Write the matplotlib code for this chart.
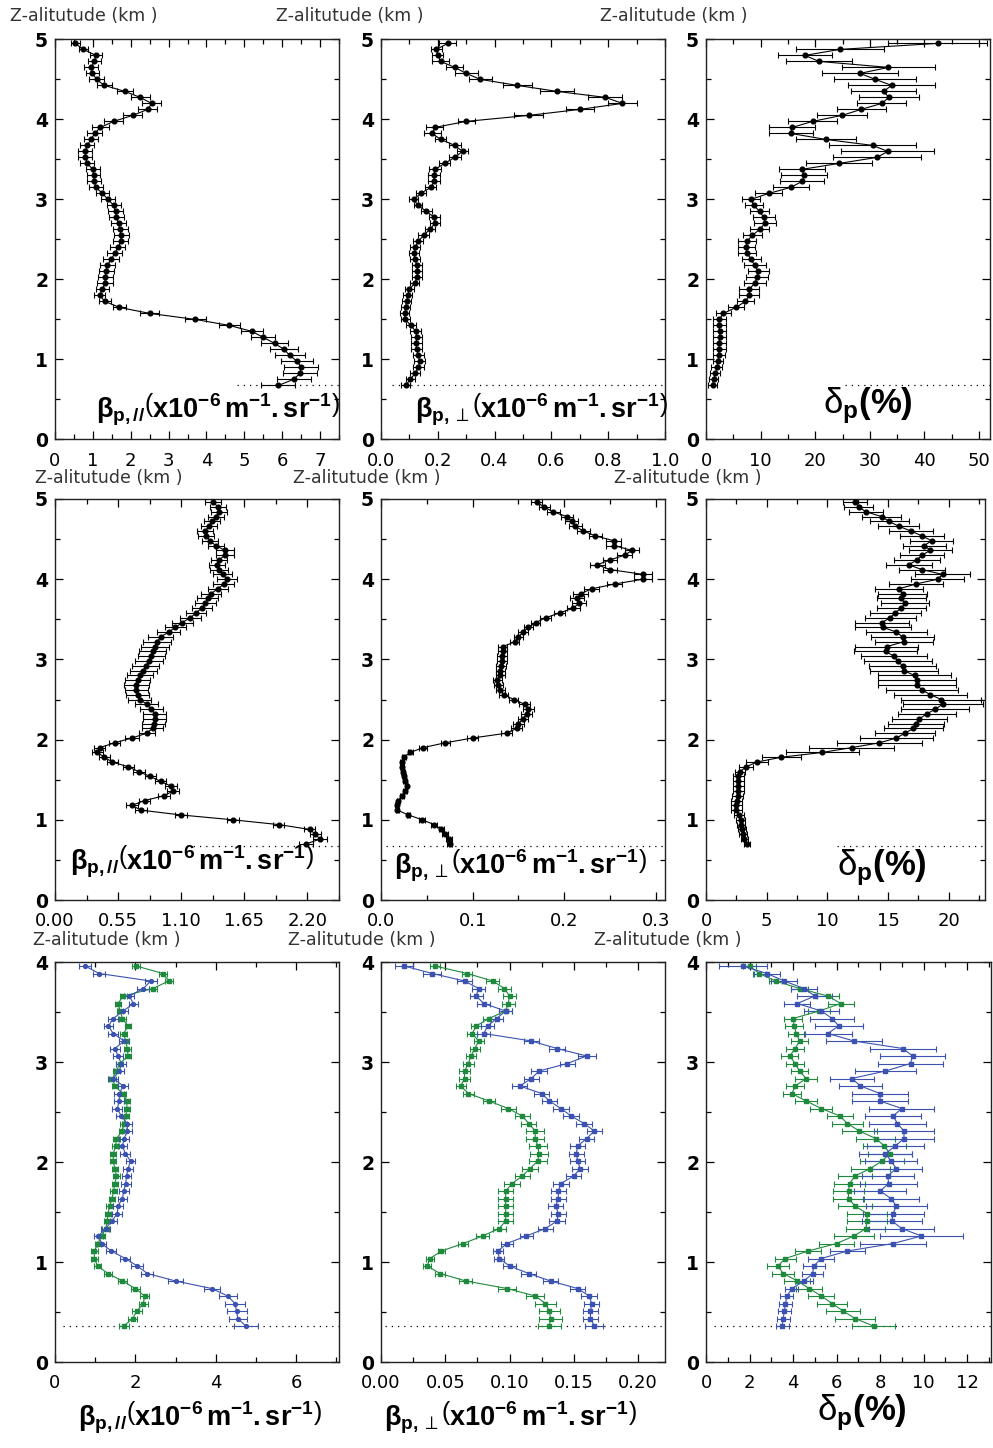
import matplotlib
matplotlib.use('Agg')
import matplotlib.pyplot as plt
from matplotlib.ticker import MultipleLocator, FixedLocator, FormatStrFormatter

plt.rcParams['font.family'] = ['DejaVu Sans']
plt.rcParams['mathtext.fontset'] = 'custom'
plt.rcParams['mathtext.rm'] = 'Liberation Sans'
plt.rcParams['mathtext.it'] = 'Liberation Sans'
plt.rcParams['mathtext.bf'] = 'Liberation Sans:bold'
plt.rcParams['mathtext.sf'] = 'DejaVu Sans'

# ---------------- data ----------------
Z1 = [0.67, 0.745, 0.82, 0.895, 0.97, 1.045, 1.12, 1.195, 1.27, 1.345,
      1.42, 1.495, 1.57, 1.645, 1.72, 1.795, 1.87, 1.945, 2.02, 2.095,
      2.17, 2.245, 2.32, 2.395, 2.47, 2.545, 2.62, 2.695, 2.77, 2.845,
      2.92, 2.995, 3.07, 3.145, 3.22, 3.295, 3.37, 3.445, 3.52, 3.595,
      3.67, 3.745, 3.82, 3.895, 3.97, 4.045, 4.12, 4.195, 4.27, 4.345,
      4.42, 4.495, 4.57, 4.645, 4.72, 4.795, 4.87, 4.945]

A_par = [5.9, 6.3, 6.47, 6.5, 6.4, 6.2, 6.05, 5.8, 5.5, 5.2,
         4.6, 3.7, 2.5, 1.7, 1.32, 1.18, 1.25, 1.32, 1.33, 1.35,
         1.38, 1.48, 1.58, 1.66, 1.74, 1.75, 1.72, 1.68, 1.62, 1.6,
         1.55, 1.4, 1.25, 1.08, 1.03, 1.02, 1.0, 0.85, 0.8, 0.8,
         0.85, 0.95, 1.05, 1.2, 1.55, 2.05, 2.45, 2.55, 2.25, 1.85,
         1.3, 1.1, 0.99, 0.95, 1.04, 1.08, 0.75, 0.53]
A_err = [0.45, 0.45, 0.45, 0.45, 0.42, 0.40, 0.38, 0.35, 0.32, 0.30,
         0.28, 0.28, 0.25, 0.18, 0.15, 0.15, 0.18, 0.20, 0.20, 0.20,
         0.20, 0.20, 0.20, 0.20, 0.20, 0.20, 0.20, 0.20, 0.20, 0.20,
         0.18, 0.18, 0.18, 0.18, 0.18, 0.18, 0.18, 0.18, 0.18, 0.18,
         0.18, 0.18, 0.20, 0.22, 0.25, 0.25, 0.25, 0.25, 0.25, 0.22,
         0.20, 0.20, 0.18, 0.18, 0.18, 0.15, 0.12, 0.12]

B_perp = [0.087, 0.103, 0.12, 0.132, 0.136, 0.132, 0.125, 0.124, 0.126, 0.122,
          0.105, 0.085, 0.084, 0.087, 0.09, 0.094, 0.1, 0.118, 0.128, 0.128,
          0.127, 0.12, 0.117, 0.121, 0.131, 0.15, 0.172, 0.19, 0.188, 0.16,
          0.13, 0.115, 0.14, 0.175, 0.187, 0.187, 0.19, 0.224, 0.26, 0.287,
          0.26, 0.21, 0.18, 0.19, 0.3, 0.52, 0.70, 0.85, 0.79, 0.62,
          0.48, 0.35, 0.30, 0.26, 0.21, 0.2, 0.195, 0.235]
B_err = [0.015, 0.015, 0.018, 0.02, 0.02, 0.02, 0.02, 0.02, 0.02, 0.02,
         0.018, 0.016, 0.016, 0.016, 0.016, 0.016, 0.016, 0.016, 0.018, 0.018,
         0.018, 0.018, 0.018, 0.018, 0.018, 0.018, 0.018, 0.018, 0.018, 0.018,
         0.015, 0.015, 0.018, 0.02, 0.02, 0.02, 0.02, 0.02, 0.02, 0.02,
         0.02, 0.02, 0.03, 0.03, 0.03, 0.05, 0.05, 0.05, 0.06, 0.06,
         0.05, 0.04, 0.04, 0.03, 0.03, 0.02, 0.02, 0.03]

C_dep = [1.2, 1.4, 1.7, 2.0, 2.2, 2.3, 2.4, 2.4, 2.5, 2.5,
         2.4, 2.4, 3.2, 5.5, 7.2, 7.9, 7.9, 8.9, 9.4, 9.6,
         8.9, 8.3, 7.5, 7.4, 7.5, 8.5, 9.8, 10.8, 10.6, 9.8,
         8.8, 8.2, 11.5, 15.5, 17.6, 18.0, 17.5, 24.4, 31.3, 33.3,
         30.5, 21.9, 15.5, 15.8, 19.5, 24.9, 28.4, 32.2, 33.5, 32.5,
         34.0, 31.0, 28.2, 33.4, 20.7, 18.1, 24.5, 42.4]
C_err = [0.8, 0.8, 0.9, 1.0, 1.0, 1.1, 1.2, 1.2, 1.2, 1.2,
         1.2, 1.2, 1.3, 1.5, 1.5, 1.8, 1.8, 2.0, 2.0, 2.0,
         2.0, 1.8, 1.6, 1.6, 1.6, 1.8, 1.8, 2.0, 2.0, 1.8,
         1.6, 1.6, 2.5, 3.3, 4.0, 4.2, 4.2, 6.0, 8.0, 8.5,
         8.0, 5.5, 4.0, 4.2, 4.5, 4.5, 4.5, 4.5, 5.5, 6.0,
         8.0, 7.5, 7.0, 8.5, 6.0, 5.0, 8.0, 9.0]

Z2 = [0.70, 0.76, 0.82, 0.88, 0.94, 1.00, 1.06, 1.12, 1.18, 1.24,
      1.30, 1.36, 1.42, 1.48, 1.54, 1.60, 1.66, 1.72, 1.78, 1.84,
      1.90, 1.96, 2.02, 2.08, 2.14, 2.20, 2.26, 2.32, 2.38, 2.44,
      2.50, 2.56, 2.62, 2.68, 2.74, 2.80, 2.86, 2.92, 2.98, 3.04,
      3.10, 3.16, 3.22, 3.28, 3.34, 3.40, 3.46, 3.52, 3.58, 3.64,
      3.70, 3.76, 3.82, 3.88, 3.94, 4.00, 4.06, 4.12, 4.18, 4.24,
      4.30, 4.36, 4.42, 4.48, 4.54, 4.60, 4.66, 4.72, 4.78, 4.84,
      4.90, 4.96]

D_par = [2.19, 2.31, 2.27, 2.22, 1.95, 1.55, 1.10, 0.75, 0.67, 0.78,
         0.95, 1.03, 1.01, 0.92, 0.83, 0.73, 0.64, 0.50, 0.43, 0.37,
         0.39, 0.52, 0.67, 0.80, 0.85, 0.86, 0.87, 0.87, 0.84, 0.80,
         0.74, 0.72, 0.71, 0.71, 0.72, 0.74, 0.77, 0.79, 0.82, 0.84,
         0.85, 0.87, 0.89, 0.92, 0.99, 1.05, 1.11, 1.18, 1.23, 1.28,
         1.31, 1.33, 1.36, 1.42, 1.47, 1.50, 1.46, 1.43, 1.41, 1.43,
         1.48, 1.48, 1.40, 1.35, 1.32, 1.31, 1.34, 1.37, 1.40, 1.43,
         1.42, 1.38]
D_err = [0.06, 0.06, 0.05, 0.05, 0.05, 0.05, 0.05, 0.05, 0.05, 0.05,
         0.05, 0.05, 0.05, 0.05, 0.05, 0.05, 0.05, 0.05, 0.05, 0.05,
         0.05, 0.05, 0.06, 0.07, 0.09, 0.10, 0.10, 0.10, 0.10, 0.10,
         0.10, 0.10, 0.10, 0.11, 0.11, 0.11, 0.12, 0.12, 0.12, 0.12,
         0.12, 0.12, 0.12, 0.11, 0.10, 0.09, 0.09, 0.09, 0.09, 0.09,
         0.09, 0.09, 0.09, 0.09, 0.09, 0.09, 0.08, 0.08, 0.07, 0.07,
         0.08, 0.08, 0.07, 0.07, 0.07, 0.07, 0.07, 0.07, 0.07, 0.07,
         0.07, 0.07]

E_perp = [0.075, 0.074, 0.070, 0.066, 0.058, 0.045, 0.030, 0.018, 0.017, 0.019,
          0.023, 0.026, 0.028, 0.026, 0.025, 0.024, 0.023, 0.023, 0.025, 0.032,
          0.046, 0.070, 0.100, 0.137, 0.148, 0.150, 0.155, 0.159, 0.161, 0.157,
          0.145, 0.134, 0.130, 0.128, 0.127, 0.130, 0.130, 0.131, 0.132, 0.132,
          0.133, 0.133, 0.146, 0.150, 0.155, 0.161, 0.169, 0.180, 0.195, 0.210,
          0.216, 0.214, 0.218, 0.230, 0.255, 0.286, 0.286, 0.250, 0.236, 0.250,
          0.266, 0.274, 0.254, 0.254, 0.234, 0.221, 0.212, 0.208, 0.203, 0.188,
          0.178, 0.170]
E_err = [0.003, 0.003, 0.003, 0.003, 0.003, 0.003, 0.002, 0.002, 0.002, 0.002,
         0.002, 0.002, 0.002, 0.002, 0.002, 0.002, 0.002, 0.002, 0.002, 0.003,
         0.004, 0.005, 0.006, 0.006, 0.006, 0.006, 0.006, 0.006, 0.006, 0.006,
         0.005, 0.005, 0.005, 0.005, 0.005, 0.005, 0.005, 0.005, 0.005, 0.005,
         0.005, 0.005, 0.005, 0.005, 0.005, 0.005, 0.005, 0.006, 0.006, 0.007,
         0.008, 0.008, 0.008, 0.008, 0.008, 0.010, 0.010, 0.008, 0.008, 0.008,
         0.008, 0.008, 0.008, 0.008, 0.007, 0.007, 0.007, 0.007, 0.007, 0.007,
         0.006, 0.006]

F_dep = [3.40, 3.15, 3.05, 2.95, 2.90, 2.85, 2.70, 2.50, 2.50, 2.55,
         2.60, 2.65, 2.65, 2.65, 2.65, 2.80, 3.30, 4.20, 6.20, 9.60,
         12.0, 14.3, 15.7, 16.4, 17.1, 17.3, 17.6, 18.2, 18.9, 19.5,
         19.4, 18.5, 17.8, 17.4, 17.4, 17.2, 16.3, 16.2, 15.8, 15.5,
         14.8, 14.9, 16.3, 16.2, 15.7, 14.6, 14.5, 15.2, 15.6, 16.1,
         16.4, 16.1, 16.2, 15.9, 17.3, 19.1, 19.5, 17.8, 16.7, 17.4,
         17.8, 18.5, 18.0, 18.6, 17.8, 16.9, 15.9, 15.1, 14.5, 13.2,
         12.6, 12.3]
F_err = [0.25, 0.30, 0.35, 0.35, 0.35, 0.40, 0.40, 0.45, 0.45, 0.45,
         0.45, 0.45, 0.45, 0.45, 0.45, 0.45, 0.60, 0.90, 1.60, 3.00,
         3.50, 3.50, 3.00, 2.50, 2.40, 2.30, 2.30, 2.40, 2.80, 3.30,
         3.30, 3.00, 3.00, 3.20, 3.20, 3.00, 2.80, 2.80, 2.80, 2.70,
         2.60, 2.60, 2.40, 2.60, 2.50, 2.30, 2.20, 2.10, 2.10, 2.00,
         2.00, 2.00, 2.00, 2.00, 2.20, 2.20, 2.30, 1.90, 1.90, 1.90,
         1.80, 1.80, 1.80, 1.80, 1.80, 1.80, 1.70, 1.60, 1.60, 1.40,
         1.20, 1.00]

Z3 = [0.360, 0.435, 0.510, 0.585, 0.660, 0.735, 0.810, 0.885, 0.960, 1.035,
      1.110, 1.185, 1.260, 1.335, 1.410, 1.485, 1.560, 1.635, 1.710, 1.785,
      1.860, 1.935, 2.010, 2.085, 2.160, 2.235, 2.310, 2.385, 2.460, 2.535,
      2.610, 2.685, 2.760, 2.835, 2.910, 2.985, 3.060, 3.135, 3.210, 3.285,
      3.360, 3.435, 3.510, 3.585, 3.660, 3.735, 3.810, 3.885, 3.960]

G_par_green = [1.71, 1.93, 2.04, 2.20, 2.23, 2.00, 1.68, 1.32, 1.06, 0.98,
               0.98, 1.07, 1.16, 1.26, 1.30, 1.32, 1.36, 1.42, 1.46, 1.49,
               1.53, 1.49, 1.45, 1.45, 1.51, 1.53, 1.68, 1.71, 1.76, 1.79,
               1.79, 1.69, 1.49, 1.43, 1.53, 1.61, 1.82, 1.80, 1.76, 1.71,
               1.82, 1.68, 1.62, 1.57, 1.70, 2.44, 2.83, 2.69, 2.02]
G_err_green = [0.12, 0.12, 0.12, 0.12, 0.12, 0.12, 0.10, 0.10, 0.08, 0.08,
               0.08, 0.08, 0.08, 0.08, 0.08, 0.08, 0.08, 0.08, 0.08, 0.08,
               0.08, 0.08, 0.08, 0.08, 0.08, 0.08, 0.08, 0.08, 0.08, 0.08,
               0.08, 0.08, 0.08, 0.08, 0.08, 0.08, 0.08, 0.08, 0.08, 0.08,
               0.08, 0.08, 0.08, 0.08, 0.08, 0.10, 0.10, 0.10, 0.10]
G_par_blue = [4.75, 4.55, 4.52, 4.48, 4.30, 3.90, 3.00, 2.30, 2.05, 1.75,
              1.40, 1.16, 1.08, 1.26, 1.42, 1.55, 1.57, 1.68, 1.71, 1.76,
              1.78, 1.82, 1.88, 1.75, 1.68, 1.72, 1.80, 1.80, 1.65, 1.55,
              1.60, 1.60, 1.70, 1.45, 1.60, 1.65, 1.57, 1.49, 1.72, 1.45,
              1.33, 1.45, 1.70, 1.95, 1.85, 2.20, 2.38, 1.10, 0.75]
G_err_blue = [0.30, 0.22, 0.25, 0.25, 0.22, 0.20, 0.18, 0.15, 0.15, 0.12,
              0.12, 0.12, 0.12, 0.12, 0.12, 0.12, 0.12, 0.12, 0.12, 0.12,
              0.12, 0.12, 0.12, 0.12, 0.12, 0.12, 0.12, 0.12, 0.12, 0.12,
              0.12, 0.12, 0.12, 0.12, 0.12, 0.12, 0.12, 0.12, 0.12, 0.12,
              0.12, 0.12, 0.12, 0.12, 0.12, 0.15, 0.15, 0.15, 0.15]

H_perp_green = [0.131, 0.132, 0.131, 0.128, 0.120, 0.098, 0.066, 0.046, 0.036, 0.038,
                0.047, 0.064, 0.079, 0.092, 0.097, 0.097, 0.097, 0.097, 0.097, 0.102,
                0.110, 0.116, 0.122, 0.123, 0.122, 0.120, 0.120, 0.115, 0.110, 0.099,
                0.084, 0.068, 0.062, 0.065, 0.065, 0.068, 0.070, 0.073, 0.076, 0.071,
                0.074, 0.084, 0.097, 0.099, 0.100, 0.096, 0.087, 0.067, 0.042]
H_err_green = [0.009, 0.009, 0.008, 0.008, 0.007, 0.007, 0.005, 0.004, 0.003, 0.003,
               0.003, 0.004, 0.005, 0.005, 0.006, 0.006, 0.006, 0.006, 0.006, 0.006,
               0.006, 0.006, 0.007, 0.007, 0.007, 0.007, 0.007, 0.006, 0.006, 0.006,
               0.005, 0.004, 0.004, 0.004, 0.004, 0.004, 0.004, 0.004, 0.004, 0.004,
               0.004, 0.005, 0.005, 0.005, 0.005, 0.005, 0.005, 0.004, 0.004]
H_perp_blue = [0.166, 0.163, 0.163, 0.164, 0.162, 0.153, 0.132, 0.115, 0.100, 0.092,
               0.091, 0.098, 0.113, 0.128, 0.137, 0.138, 0.136, 0.138, 0.138, 0.140,
               0.150, 0.155, 0.153, 0.152, 0.153, 0.160, 0.166, 0.158, 0.148, 0.140,
               0.131, 0.125, 0.108, 0.117, 0.123, 0.145, 0.160, 0.137, 0.117, 0.080,
               0.083, 0.090, 0.097, 0.080, 0.074, 0.076, 0.065, 0.040, 0.018]
H_err_blue = [0.007, 0.006, 0.006, 0.006, 0.006, 0.006, 0.006, 0.006, 0.005, 0.004,
              0.004, 0.005, 0.005, 0.006, 0.006, 0.006, 0.006, 0.006, 0.006, 0.006,
              0.006, 0.006, 0.006, 0.006, 0.006, 0.006, 0.006, 0.006, 0.006, 0.006,
              0.006, 0.006, 0.006, 0.006, 0.006, 0.006, 0.007, 0.006, 0.006, 0.005,
              0.005, 0.005, 0.005, 0.005, 0.005, 0.005, 0.006, 0.007, 0.007]

I_dep_green = [7.70, 6.85, 6.30, 5.80, 5.30, 4.75, 4.20, 3.55, 3.30, 3.65,
               4.70, 6.00, 6.80, 7.35, 7.40, 7.40, 6.85, 6.55, 6.55, 6.60,
               6.85, 7.55, 8.10, 8.45, 8.20, 7.80, 7.05, 6.50, 6.15, 5.30,
               4.60, 3.95, 4.10, 4.60, 4.30, 4.10, 3.85, 4.10, 4.30, 4.15,
               4.05, 4.00, 5.20, 6.20, 5.60, 4.30, 3.20, 2.45, 2.00]
I_err_green = [1.0, 0.9, 0.8, 0.7, 0.6, 0.6, 0.6, 0.5, 0.5, 0.5,
               0.6, 0.8, 0.9, 0.9, 0.9, 0.9, 0.8, 0.7, 0.7, 0.7,
               0.8, 0.9, 1.0, 1.0, 1.0, 0.9, 0.8, 0.7, 0.6, 0.5,
               0.5, 0.4, 0.4, 0.5, 0.4, 0.4, 0.4, 0.4, 0.4, 0.4,
               0.4, 0.4, 0.5, 0.6, 0.5, 0.4, 0.3, 0.3, 0.3]
I_dep_blue = [3.50, 3.55, 3.60, 3.65, 3.72, 3.95, 4.50, 4.90, 4.95, 5.30,
              6.50, 8.60, 9.90, 9.00, 8.55, 8.60, 8.75, 8.50, 8.00, 8.40,
              8.35, 8.75, 8.50, 8.25, 8.70, 9.10, 9.10, 8.80, 8.60, 9.00,
              8.00, 8.00, 7.10, 6.70, 8.25, 9.40, 9.50, 9.05, 6.80, 5.60,
              6.10, 5.80, 5.30, 4.20, 5.00, 4.50, 3.60, 2.80, 1.70]
I_err_blue = [0.3, 0.3, 0.3, 0.3, 0.3, 0.3, 0.4, 0.5, 0.5, 0.6,
              0.8, 1.5, 1.9, 1.5, 1.4, 1.4, 1.4, 1.3, 1.2, 1.3,
              1.2, 1.2, 1.2, 1.2, 1.3, 1.4, 1.4, 1.3, 1.3, 1.5,
              1.3, 1.3, 1.0, 1.0, 1.4, 1.5, 1.5, 1.5, 1.3, 1.1,
              1.1, 1.0, 0.8, 0.6, 0.8, 0.6, 0.6, 0.6, 1.1]

# reference altitude (dotted line) per row
ZREF_TOP = 0.67
ZREF_BOT = 0.36

XT_A = [0, 1, 2, 3, 4, 5, 6, 7]
XT_B = [0.0, 0.2, 0.4, 0.6, 0.8, 1.0]
XT_C = [0, 10, 20, 30, 40, 50]
XT_D = [0.00, 0.55, 1.10, 1.65, 2.20]
XT_E = [0.0, 0.1, 0.2, 0.3]
XT_F = [0, 5, 10, 15, 20]
XT_G = [0, 2, 4, 6]
XT_H = [0.00, 0.05, 0.10, 0.15, 0.20]
XT_I = [0, 2, 4, 6, 8, 10, 12]

LAB_PAR = r'$\mathbf{\beta_{p,//}\left(x10^{-6}\,m^{-1}.sr^{-1}\right)}$'
LAB_PERP = r'$\mathbf{\beta}_{\mathbf{p,}\mathsf{\perp}}\mathbf{\left(x10^{-6}\,m^{-1}.sr^{-1}\right)}$'
LAB_DEP = r'$\mathrm{\delta}_{\mathbf{p}}\mathbf{(\%)}$'
YLAB = 'Z-alitutude (km )'

BLUE = '#3b52b0'
GREEN = '#1f8a3e'

# ---------------- figure ----------------
W, H = 993, 1448
fig = plt.figure(figsize=(W / 100, H / 100), dpi=100)


def add_ax(x0, x1, ytop, ybot):
    return fig.add_axes([x0 / W, 1 - ybot / H, (x1 - x0) / W, (ybot - ytop) / H])


def style(ax, xlim, xticks, fmt, ymax):
    ax.set_xlim(*xlim)
    ax.set_ylim(0, ymax)
    ax.xaxis.set_major_locator(FixedLocator(xticks))
    ax.xaxis.set_major_formatter(FormatStrFormatter(fmt))
    step = xticks[1] - xticks[0]
    ax.xaxis.set_minor_locator(MultipleLocator(step / 2))
    ax.yaxis.set_major_locator(MultipleLocator(1))
    ax.yaxis.set_minor_locator(MultipleLocator(0.5))
    ax.tick_params(which='both', direction='in', top=True, right=True, width=0.9)
    ax.tick_params(which='major', length=6)
    ax.tick_params(which='minor', length=3.5)
    ax.tick_params(axis='x', labelsize=13, pad=9)
    ax.tick_params(axis='y', labelsize=13.5, pad=5)
    for lab in ax.get_yticklabels():
        lab.set_fontweight('bold')
    for s in ax.spines.values():
        s.set_linewidth(1.0)
        s.set_color('#222222')


def prof(ax, x, z, err, color='k', marker='o', ms=3.4):
    ax.errorbar(x, z, xerr=err, fmt='-', marker=marker, color=color, ms=ms, lw=0.8,
                elinewidth=0.8, capsize=2.2, capthick=0.8, zorder=3)


def dotted(ax, y, x0, x1):
    ax.plot([x0, x1], [y, y], ls=(0, (1, 4)), color='k', lw=0.9, zorder=2)


def figtext(xpx, ypx, s, **kw):
    fig.text(xpx / W, 1 - ypx / H, s, **kw)


COLS = [(55, 339), (381, 665), (706, 990)]
ROWS = [(39, 439), (499, 900), (962, 1362)]

# Row 1
axA = add_ax(*COLS[0], *ROWS[0])
prof(axA, A_par, Z1, A_err)
style(axA, (0, 7.5), XT_A, '%d', 5)
dotted(axA, ZREF_TOP, 4.8, 7.5)

axB = add_ax(*COLS[1], *ROWS[0])
prof(axB, B_perp, Z1, B_err)
style(axB, (0, 1.0), XT_B, '%.1f', 5)
dotted(axB, ZREF_TOP, 0.04, 1.0)

axC = add_ax(COLS[2][0], COLS[2][1], *ROWS[0])
prof(axC, C_dep, Z1, C_err)
style(axC, (0, 52), XT_C, '%d', 5)
dotted(axC, ZREF_TOP, 25.5, 52)

# Row 2
axD = add_ax(*COLS[0], *ROWS[1])
prof(axD, D_par, Z2, D_err)
style(axD, (0, 2.475), XT_D, '%.2f', 5)
dotted(axD, ZREF_TOP, 1.15, 2.475)

axE = add_ax(*COLS[1], *ROWS[1])
prof(axE, E_perp, Z2, E_err)
style(axE, (0, 0.31), XT_E, '%.1f', 5)
dotted(axE, ZREF_TOP, 0.005, 0.31)

axF = add_ax(706, 985, *ROWS[1])
prof(axF, F_dep, Z2, F_err)
style(axF, (0, 23), XT_F, '%d', 5)
dotted(axF, ZREF_TOP, 10.8, 23)

# Row 3
axG = add_ax(*COLS[0], *ROWS[2])
prof(axG, G_par_green, Z3, G_err_green, GREEN, 's', 3.0)
prof(axG, G_par_blue, Z3, G_err_blue, BLUE, 'o', 2.8)
style(axG, (0, 7.07), XT_G, '%d', 4)
dotted(axG, ZREF_BOT, 0.19, 7.07)

axH = add_ax(*COLS[1], *ROWS[2])
prof(axH, H_perp_green, Z3, H_err_green, GREEN, 's', 3.0)
prof(axH, H_perp_blue, Z3, H_err_blue, BLUE, 's', 2.8)
style(axH, (0, 0.221), XT_H, '%.2f', 4)
dotted(axH, ZREF_BOT, 0.003, 0.221)

axI = add_ax(706, 991, *ROWS[2])
prof(axI, I_dep_green, Z3, I_err_green, GREEN, 's', 3.0)
prof(axI, I_dep_blue, Z3, I_err_blue, BLUE, 's', 2.8)
style(axI, (0, 13.1), XT_I, '%d', 4)
dotted(axI, ZREF_BOT, 0.38, 13.1)

# axis titles (altitude)
for (xp, yp) in [(10, 16), (276, 16), (600, 16),
                 (35, 478), (293, 478), (614, 478),
                 (33, 940), (288, 940), (594, 940)]:
    figtext(xp, yp, YLAB, ha='left', va='center', fontsize=12.5, color='#333333')

# quantity labels
kwl = dict(ha='center', va='center', fontsize=19.5, color='k')
kwd = dict(ha='center', va='center', fontsize=25, color='k')
figtext(218, 410, LAB_PAR, **kwl)
figtext(541, 410, LAB_PERP, **kwl)
figtext(868, 406, LAB_DEP, **kwd)
figtext(192, 862, LAB_PAR, **kwl)
figtext(520, 866, LAB_PERP, **kwl)
figtext(882, 868, LAB_DEP, **kwd)
figtext(200, 1418, LAB_PAR, **kwl)
figtext(510, 1418, LAB_PERP, **kwl)
figtext(862, 1413, LAB_DEP, **kwd)

fig.savefig('out.png', dpi=100)
